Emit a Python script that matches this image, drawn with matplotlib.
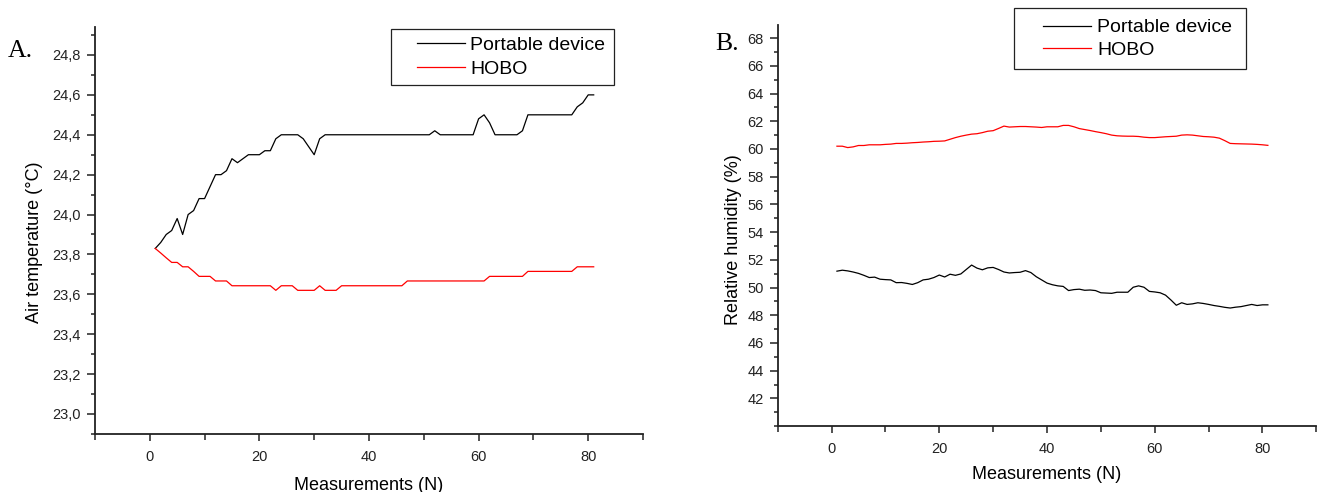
import matplotlib
matplotlib.use("Agg")
import matplotlib.pyplot as plt
from matplotlib.ticker import MultipleLocator, FuncFormatter
from matplotlib.lines import Line2D
from matplotlib.legend_handler import HandlerLine2D

plt.rcParams['font.family'] = ['Liberation Sans', 'DejaVu Sans']

# Измерения 1..81
n = list(range(1, 82))

# A. Температура воздуха (°C)
temp_portable = [
    23.83, 23.86, 23.90, 23.92, 23.98, 23.90, 24.00, 24.02, 24.08, 24.08,
    24.14, 24.20, 24.20, 24.22, 24.28, 24.26, 24.28, 24.30, 24.30, 24.30,
    24.32, 24.32, 24.38, 24.40, 24.40, 24.40, 24.40, 24.38, 24.34, 24.30,
    24.38, 24.40, 24.40, 24.40, 24.40, 24.40, 24.40, 24.40, 24.40, 24.40,
    24.40, 24.40, 24.40, 24.40, 24.40, 24.40, 24.40, 24.40, 24.40, 24.40,
    24.40, 24.42, 24.40, 24.40, 24.40, 24.40, 24.40, 24.40, 24.40, 24.48,
    24.50, 24.46, 24.40, 24.40, 24.40, 24.40, 24.40, 24.42, 24.50, 24.50,
    24.50, 24.50, 24.50, 24.50, 24.50, 24.50, 24.50, 24.54, 24.56, 24.60,
    24.60,
]
temp_hobo = [
    23.83, 23.807, 23.783, 23.76, 23.76, 23.738, 23.738, 23.715, 23.69, 23.69,
    23.69, 23.667, 23.667, 23.667, 23.643, 23.643, 23.643, 23.643, 23.643, 23.643,
    23.643, 23.643, 23.62, 23.643, 23.643, 23.643, 23.62, 23.62, 23.62, 23.62,
    23.643, 23.62, 23.62, 23.62, 23.643, 23.643, 23.643, 23.643, 23.643, 23.643,
    23.643, 23.643, 23.643, 23.643, 23.643, 23.643, 23.667, 23.667, 23.667, 23.667,
    23.667, 23.667, 23.667, 23.667, 23.667, 23.667, 23.667, 23.667, 23.667, 23.667,
    23.667, 23.69, 23.69, 23.69, 23.69, 23.69, 23.69, 23.69, 23.715, 23.715,
    23.715, 23.715, 23.715, 23.715, 23.715, 23.715, 23.715, 23.738, 23.738, 23.738,
    23.738,
]

# B. Относительная влажность (%)
hum_portable = [
    51.18, 51.25, 51.20, 51.12, 51.02, 50.88, 50.72, 50.75, 50.60, 50.57,
    50.55, 50.35, 50.36, 50.30, 50.22, 50.35, 50.55, 50.60, 50.72, 50.90,
    50.76, 50.96, 50.88, 50.98, 51.30, 51.62, 51.40, 51.28, 51.42, 51.45,
    51.30, 51.12, 51.05, 51.08, 51.10, 51.22, 51.08, 50.78, 50.55, 50.32,
    50.20, 50.12, 50.08, 49.78, 49.85, 49.88, 49.80, 49.82, 49.78, 49.62,
    49.60, 49.58, 49.66, 49.66, 49.66, 50.02, 50.12, 50.02, 49.72, 49.68,
    49.62, 49.45, 49.10, 48.72, 48.90, 48.78, 48.82, 48.90, 48.85, 48.78,
    48.70, 48.64, 48.57, 48.52, 48.58, 48.62, 48.70, 48.78, 48.70, 48.75,
    48.75,
]
hum_hobo = [
    60.20, 60.20, 60.10, 60.15, 60.25, 60.25, 60.30, 60.30, 60.30, 60.33,
    60.35, 60.40, 60.40, 60.42, 60.45, 60.47, 60.50, 60.52, 60.55, 60.56,
    60.58, 60.70, 60.82, 60.92, 61.00, 61.07, 61.10, 61.18, 61.28, 61.32,
    61.48, 61.65, 61.58, 61.60, 61.62, 61.62, 61.60, 61.58, 61.55, 61.60,
    61.60, 61.60, 61.70, 61.70, 61.60, 61.47, 61.40, 61.33, 61.25, 61.18,
    61.10, 61.00, 60.95, 60.93, 60.92, 60.92, 60.90, 60.85, 60.82, 60.82,
    60.85, 60.88, 60.90, 60.92, 61.00, 61.02, 61.00, 60.95, 60.90, 60.88,
    60.85, 60.78, 60.60, 60.40, 60.38, 60.37, 60.36, 60.35, 60.33, 60.30,
    60.26,
]

fig = plt.figure(figsize=(13.19, 4.92), dpi=100)
ax1 = fig.add_axes([0.072, 0.118, 0.4155, 0.827])
ax2 = fig.add_axes([0.5896, 0.134, 0.4084, 0.815])

comma = FuncFormatter(lambda v, p: f"{v:.1f}".replace('.', ','))

for ax in (ax1, ax2):
    for s in ('top', 'right'):
        ax.spines[s].set_visible(False)
    for s in ('left', 'bottom'):
        ax.spines[s].set_linewidth(1.3)
        ax.spines[s].set_color('#222222')
    ax.set_xlim(-10, 90)
    ax.xaxis.set_major_locator(MultipleLocator(20))
    ax.xaxis.set_minor_locator(MultipleLocator(10))
    ax.tick_params(axis='x', which='major', direction='out', length=5, width=1.1,
                   pad=6.5, labelsize=10.5, colors='#222222')
    ax.tick_params(axis='x', which='minor', direction='out', length=4.5, width=1.1,
                   colors='#222222')
    ax.tick_params(axis='y', which='major', direction='out', length=6, width=1.1,
                   pad=4.3, labelsize=10.5, colors='#222222')
    ax.tick_params(axis='y', which='minor', direction='out', length=3, width=1.1,
                   colors='#222222')

# Панель A
ax1.plot(n, temp_portable, color='black', lw=0.9, label='Portable device')
ax1.plot(n, temp_hobo, color='red', lw=0.9, label='HOBO')
ax1.set_ylim(22.9, 24.94)
ax1.yaxis.set_major_locator(MultipleLocator(0.2))
ax1.yaxis.set_minor_locator(MultipleLocator(0.1))
ax1.yaxis.set_major_formatter(comma)
ax1.set_ylabel('Air temperature (°C)', fontsize=13)
ax1.set_xlabel('Measurements (N)', fontsize=13)
ax1.yaxis.set_label_coords(-0.095, 0.47)
ax1.xaxis.set_label_coords(0.5, -0.105)

# Панель B
ax2.plot(n, hum_portable, color='black', lw=0.9, label='Portable device')
ax2.plot(n, hum_hobo, color='red', lw=0.9, label='HOBO')
ax2.set_ylim(40, 68.94)
ax2.set_yticks(range(42, 69, 2))
ax2.yaxis.set_minor_locator(MultipleLocator(1))
ax2.set_ylabel('Relative humidity (%)', fontsize=13)
ax2.set_xlabel('Measurements (N)', fontsize=13)
ax2.yaxis.set_label_coords(-0.066, 0.464)
ax2.xaxis.set_label_coords(0.5, -0.1)

hmap = {Line2D: HandlerLine2D(marker_pad=0.957, numpoints=2)}
leg_kw = dict(loc='upper left', mode='expand', borderaxespad=0, fontsize=14,
              fancybox=False, framealpha=1, edgecolor='#222222',
              handlelength=4.38, handletextpad=-0.65,
              bbox_transform=fig.transFigure, handler_map=hmap)
l1 = ax1.legend(bbox_to_anchor=(0.2964, 0.8411, 0.1691, 0.1), borderpad=0.36,
                labelspacing=0.36, **leg_kw)
l2 = ax2.legend(bbox_to_anchor=(0.7688, 0.8837, 0.1759, 0.1), borderpad=0.55,
                labelspacing=0.25, **leg_kw)
for lg in (l1, l2):
    lg.get_frame().set_linewidth(0.9)

fig.text(8 / 1319, 1 - 57 / 492, 'A.', family='Liberation Serif', fontsize=18.5,
         ha='left', va='baseline')
fig.text(715 / 1319, 1 - 50 / 492, 'B.', family='Liberation Serif', fontsize=18.5,
         ha='left', va='baseline')

fig.savefig('out.png', dpi=100)
